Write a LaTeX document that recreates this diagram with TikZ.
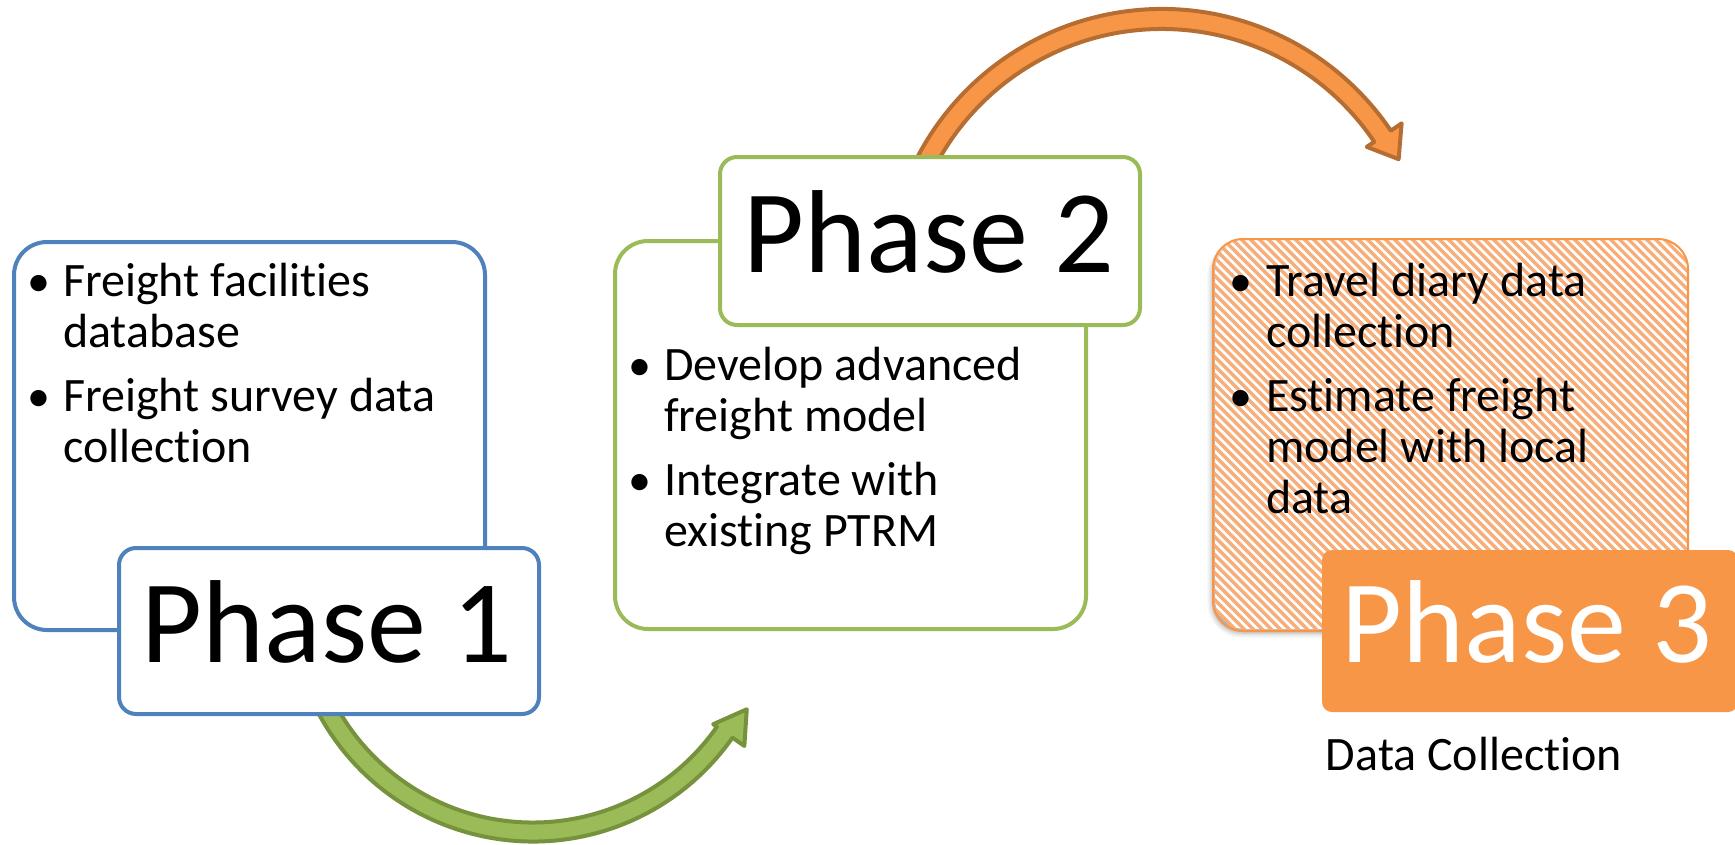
\documentclass[tikz,border=0pt]{standalone}
\usepackage{fontspec}
\setmainfont{Carlito}[Ligatures={TeX,NoCommon}]
\usetikzlibrary{shadows.blur}

\definecolor{blueline}{HTML}{4F81BD}
\definecolor{greenline}{HTML}{9BBB59}
\definecolor{greendark}{HTML}{76923C}
\definecolor{orangefill}{HTML}{F79646}
\definecolor{orangedark}{HTML}{B66D31}
\definecolor{stripe}{HTML}{F8AC78}

\tikzset{
  panel/.style={rectangle, draw, line width=4pt, fill=white, inner sep=0pt,
    anchor=north west, minimum width=471pt, minimum height=388pt,
    rounded corners=33pt},
  tag/.style={rectangle, draw, line width=4pt, fill=white, inner sep=0pt,
    anchor=north west, minimum width=420pt, minimum height=166pt,
    rounded corners=17pt},
  title/.style={inner sep=0pt, anchor=base, font=\fontsize{118}{140}\selectfont},
  item/.style={inner sep=0pt, anchor=base west, font=\fontsize{48}{56}\selectfont},
  dot/.style={inner sep=0pt, anchor=base, font=\fontsize{46}{56}\selectfont},
  bend arrow/.style={line width=4pt, line join=round},
}

\begin{document}
\begin{tikzpicture}[x=1pt, y=-1pt]
\useasboundingbox (0,0) rectangle (1735,844);

% curved arrows between the phases (drawn first, the boxes cover their tails)
\coordinate (gc) at (533,598);
\draw[bend arrow, draw=greendark, fill=greenline, shift={(gc)}]
  (155:243.5) arc[start angle=155, end angle=35, radius=243.5]
  -- (35:258) -- (27.5:241) -- (35:220) -- (35:224.5)
  arc[start angle=35, end angle=155, radius=224.5] -- cycle;

\coordinate (oc) at (1162,285);
\draw[bend arrow, draw=orangedark, fill=orangefill, shift={(oc)}]
  (-155:276) arc[start angle=-155, end angle=-34, radius=276]
  -- (-34:289) -- (-28:268) -- (-34:247) -- (-34:256)
  arc[start angle=-34, end angle=-155, radius=256] -- cycle;

% Phase 1
\node[panel, draw=blueline] (p1box) at (12,240) {};
\node[tag, draw=blueline] (p1tag) at (117,546) {};
\node[title] (p1title) at (327,662) {Phase 1};
\node[dot] (p1d1) at (39,296) {•};
\node[item] (p1l1) at (63,296) {Freight facilities};
\node[item] (p1l2) at (63,347) {database};
\node[dot] (p1d2) at (39,411) {•};
\node[item] (p1l3) at (63,411) {Freight survey data};
\node[item] (p1l4) at (63,462) {collection};

% Phase 2
\node[panel, draw=greenline] (p2box) at (613,239) {};
\node[tag, draw=greenline, minimum height=168pt] (p2tag) at (718,155) {};
\node[title] (p2title) at (929,272) {Phase 2};
\node[dot] (p2d1) at (640,380) {•};
\node[item] (p2l1) at (664,380) {Develop advanced};
\node[item] (p2l2) at (664,431) {freight model};
\node[dot] (p2d2) at (640,495) {•};
\node[item] (p2l3) at (664,495) {Integrate with};
\node[item] (p2l4) at (664,546) {existing PTRM};

% Phase 3: hatched panel with a soft shadow
\node[panel, draw=none, rounded corners=30pt,
  blur shadow={shadow xshift=-3pt, shadow yshift=-4pt, shadow blur radius=5pt, shadow opacity=35}]
  (p3box) at (1213,239) {};
\begin{scope}
  \clip[rounded corners=30pt] (p3box.north west) rectangle (p3box.south east);
  \foreach \c in {570,579,...,1460}
    \draw[stripe, line width=3.2pt] (\c+229,229) -- (\c+640,640);
\end{scope}
\draw[orangefill, line width=2pt, rounded corners=30pt]
  (p3box.north west) rectangle (p3box.south east);
\node[tag, draw=none, fill=orangefill, rounded corners=10pt,
  minimum width=416pt, minimum height=162pt] (p3tag) at (1320,548) {};
\node[title, text=white] (p3title) at (1527,662) {Phase 3};
\node[dot] (p3d1) at (1241,296) {•};
\node[item] (p3l1) at (1266,296) {Travel diary data};
\node[item] (p3l2) at (1266,347) {collection};
\node[dot] (p3d2) at (1241,411) {•};
\node[item] (p3l3) at (1266,411) {Estimate freight};
\node[item] (p3l4) at (1266,462) {model with local};
\node[item] (p3l5) at (1266,513) {data};
\node[item, anchor=base] (p3note) at (1474,770) {Data Collection};
\end{tikzpicture}
\end{document}
